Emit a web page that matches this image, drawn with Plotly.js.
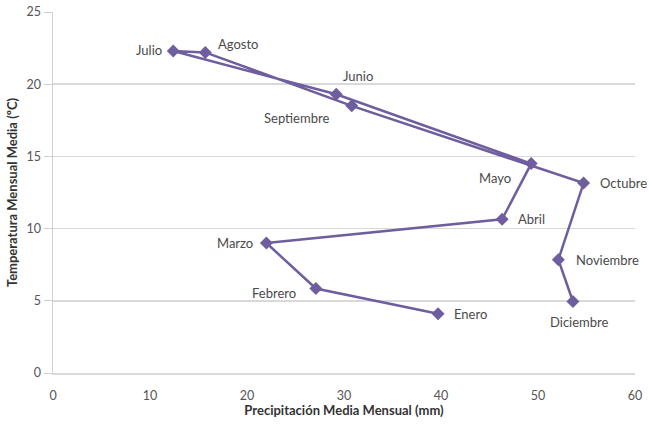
<!DOCTYPE html>
<html>
<head>
<meta charset="utf-8">
<script src="https://cdn.plot.ly/plotly-3.0.1.min.js"></script>
<style>html,body{margin:0;padding:0;background:#fff;}#chart{width:649px;height:430px;}</style>
</head>
<body>
<div id="chart"></div>
<script>
var months = ["Enero","Febrero","Marzo","Abril","Mayo","Junio","Julio","Agosto","Septiembre","Octubre","Noviembre","Diciembre"];
var precipitation = [39.7, 27.1, 22.0, 46.3, 49.3, 29.2, 12.4, 15.7, 30.8, 54.7, 52.1, 53.6];
var temperature = [4.1, 5.85, 9.0, 10.65, 14.5, 19.3, 22.3, 22.2, 18.5, 13.15, 7.85, 4.95];
var xTicks = [0,10,20,30,40,50,60];
var yTicks = [0,5,10,15,20,25];

// label placement (styling only): anchor and pixel shift per month
var labelAnchor = ["left","right","right","left","center","center","right","center","center","left","left","center"];
var labelDx = [14, -18, -11, 14, -36, 22, -9, 33, -55, 14, 16, 7];
var labelDy = [0, -4, 0, 0, -14, 18, 1, 8, -12, 0, 0, -20];

var fontFam = "Lato, 'Open Sans', sans-serif";
var purple = "#6f5e9e";

var trace = {
  x: precipitation,
  y: temperature,
  mode: "lines+markers",
  type: "scatter",
  line: {color: purple, width: 2.5},
  marker: {symbol: "diamond", size: 10, color: purple},
  cliponaxis: false,
  hoverinfo: "none"
};

var annotations = months.map(function(m, i) {
  return {
    x: precipitation[i], y: temperature[i], xref: "x", yref: "y",
    text: m, showarrow: false,
    xanchor: labelAnchor[i], yanchor: "middle",
    xshift: labelDx[i], yshift: labelDy[i],
    font: {family: fontFam, size: 13, color: "#4a4a4a"}
  };
});

var layout = {
  width: 649, height: 430,
  margin: {l: 53, r: 14, t: 12, b: 57},
  paper_bgcolor: "#fff", plot_bgcolor: "#fff",
  showlegend: false,
  font: {family: fontFam, color: "#555", size: 12},
  annotations: annotations,
  xaxis: {
    range: [0, 60], tickvals: xTicks, showgrid: false, zeroline: false,
    showline: true, linecolor: "#d9d9d9", linewidth: 1.5,
    ticks: "", ticklabelstandoff: 10, tickfont: {size: 12.5, color: "#555"},
    title: {text: "Precipitación Media Mensual (mm)", font: {size: 13, color: "#333", weight: "bold"}, standoff: 4}
  },
  yaxis: {
    range: [0, 25], tickvals: yTicks, showgrid: true, gridcolor: "#d9d9d9", gridwidth: 1.5,
    zeroline: false, showline: true, linecolor: "#d0d0d0", linewidth: 1.5,
    ticks: "outside", ticklen: 8, tickcolor: "#d0d0d0",
    tickfont: {size: 12.5, color: "#555"},
    title: {text: "Temperatura Mensual Media (ºC)", font: {size: 13, color: "#333", weight: "bold"}, standoff: 6}
  }
};

Plotly.newPlot("chart", [trace], layout, {staticPlot: true, displayModeBar: false});
</script>
</body>
</html>
